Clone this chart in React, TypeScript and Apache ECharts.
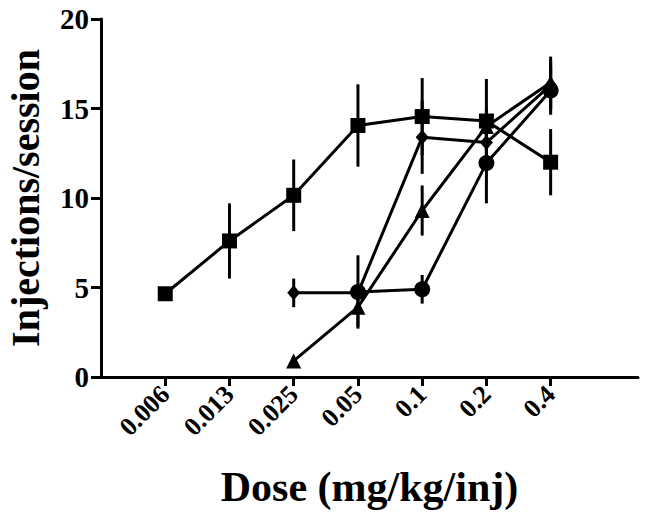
import React, { useEffect, useRef } from "react";
import * as echarts from "echarts";

const doses = ["0.006", "0.013", "0.025", "0.05", "0.1", "0.2", "0.4"];
const tickIdx = [0, 1, 2, 3, 4, 5, 6];

const squareMean = [4.65, 7.6, 10.15, 14.05, 14.55, 14.3, 12.0];
const squareErr = [0, 2.1, 2.0, 2.3, 2.15, 2.35, 1.85];

const diamondMean = [null, null, 4.7, 4.7, 13.4, 13.1, 16.3];
const diamondErr = [null, null, 0.8, 0, 2.05, 1.2, 1.4];

const circleMean = [null, null, null, 4.75, 4.9, 11.95, 16.0];
const circleErr = [null, null, null, 2.05, 0.8, 2.25, 1.35];

const triangleMean = [null, null, 0.9, 3.9, 9.3, 14.0, 16.45];
const triangleErr = [null, null, 0, 1.1, 1.4, 1.0, 1.45];

const FONT = "'Liberation Serif', 'Times New Roman', serif";

function pts(mean: (number | null)[]) {
  return mean.map((m, i) => (m === null ? null : [i, m])).filter((d) => d !== null);
}
function errs(mean: (number | null)[], err: (number | null)[]) {
  const out: number[][] = [];
  mean.forEach((m, i) => {
    const e = err[i];
    if (m !== null && e !== null && e > 0) out.push([i, m, e]);
  });
  return out;
}

export default function App() {
  const ref = useRef<HTMLDivElement>(null);
  useEffect(() => {
    if (!ref.current) return;
    const chart = echarts.init(ref.current, undefined, { renderer: "svg" });
    const lineSeries = (name: string, data: any[], symbol: string, size: any) => ({
      name,
      type: "line",
      data,
      symbol,
      symbolSize: size,
      showSymbol: true,
      lineStyle: { color: "#000", width: 3 },
      itemStyle: { color: "#000" },
      z: 3,
    });
    const errSeries = (data: number[][]) => ({
      type: "custom",
      data,
      encode: { x: 0, y: 1 },
      z: 2,
      renderItem: (params: any, api: any) => {
        const x = api.value(0);
        const m = api.value(1);
        const e = api.value(2);
        const a = api.coord([x, m + e]);
        const b = api.coord([x, m - e]);
        return {
          type: "line",
          shape: { x1: a[0], y1: a[1], x2: b[0], y2: b[1] },
          style: { stroke: "#000", lineWidth: 3 },
        };
      },
    });
    chart.setOption({
      animation: false,
      backgroundColor: "#fff",
      grid: { left: 101, right: 11, top: 19, bottom: 137, containLabel: false, outerBoundsMode: "none" },
      xAxis: {
        type: "value",
        min: -1,
        max: 7.36,
        name: "Dose (mg/kg/inj)",
        nameLocation: "middle",
        nameGap: 89,
        nameTextStyle: { fontFamily: FONT, fontWeight: "bold", fontSize: 42, color: "#000" },
        splitLine: { show: false },
        axisLine: { show: true, onZero: false, lineStyle: { color: "#000", width: 3 } },
        axisTick: { show: true, customValues: tickIdx, length: 9, lineStyle: { color: "#000", width: 3 } },
        axisLabel: {
          show: true,
          customValues: tickIdx,
          formatter: (v: number) => doses[Math.round(v)] ?? "",
          rotate: 45,
          margin: 13,
          fontFamily: FONT,
          fontWeight: "bold",
          fontSize: 26,
          color: "#000",
        },
      },
      yAxis: {
        type: "value",
        min: 0,
        max: 20,
        interval: 5,
        name: "Injections/session",
        nameLocation: "middle",
        nameGap: 56,
        nameTextStyle: { fontFamily: FONT, fontWeight: "bold", fontSize: 40, color: "#000" },
        splitLine: { show: false },
        axisLine: { show: true, onZero: false, lineStyle: { color: "#000", width: 3 } },
        axisTick: { show: true, length: 10, lineStyle: { color: "#000", width: 3 } },
        axisLabel: {
          margin: 12,
          fontFamily: FONT,
          fontWeight: "bold",
          fontSize: 29,
          color: "#000",
        },
      },
      series: [
        errSeries(errs(squareMean, squareErr)),
        errSeries(errs(diamondMean, diamondErr)),
        errSeries(errs(circleMean, circleErr)),
        errSeries(errs(triangleMean, triangleErr)),
        lineSeries("square", pts(squareMean), "rect", 15),
        lineSeries("diamond", pts(diamondMean), "diamond", [13, 15]),
        lineSeries("circle", pts(circleMean), "circle", 16),
        lineSeries("triangle", pts(triangleMean), "triangle", 15),
      ],
    });
    return () => chart.dispose();
  }, []);
  return (
    <div
      ref={ref}
      style={{ position: "absolute", left: 0, top: 0, width: 649, height: 514, background: "#fff" }}
    />
  );
}
